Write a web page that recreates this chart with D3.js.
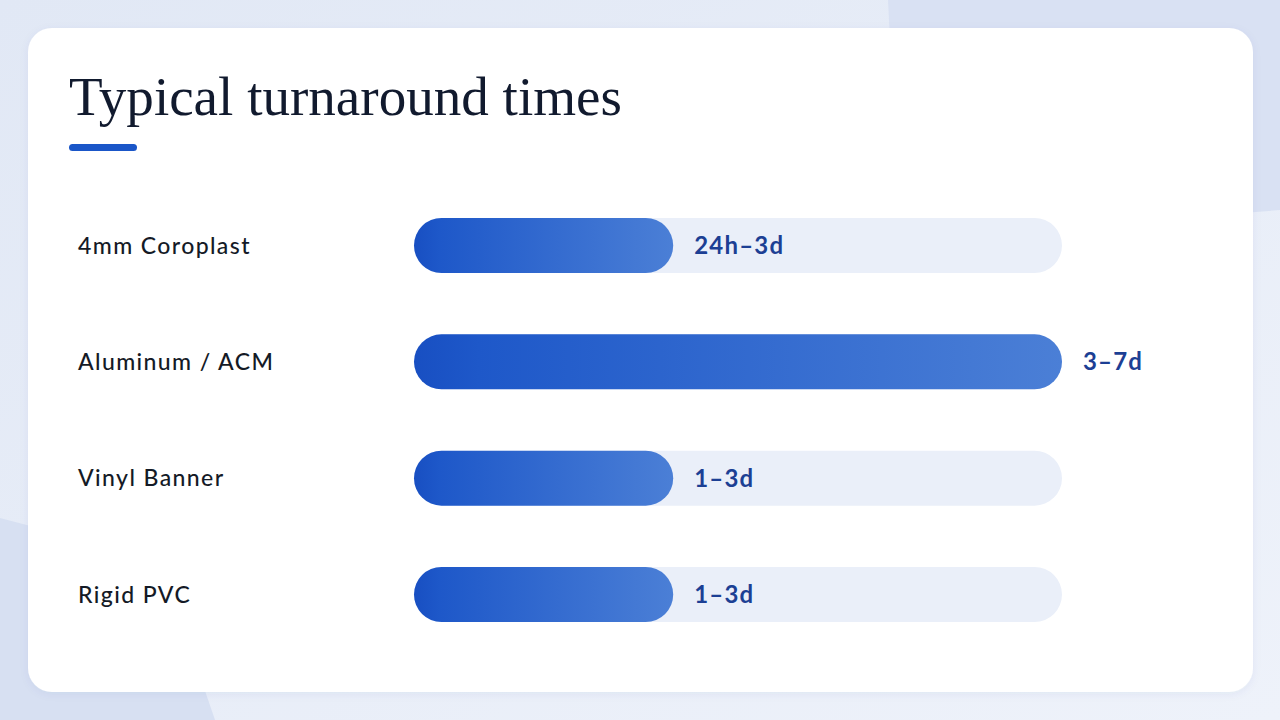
<!DOCTYPE html>
<html>
<head>
<meta charset="utf-8">
<script src="https://cdn.jsdelivr.net/npm/d3@7"></script>
<style>
  html, body { margin: 0; padding: 0; background: #e4eaf6; }
  svg { display: block; }
</style>
</head>
<body>
<svg id="chart" width="1280" height="720"></svg>
<script>
// ---- data ----
const title = "Typical turnaround times";
const categories = ["4mm Coroplast", "Aluminum / ACM", "Vinyl Banner", "Rigid PVC"];
const valueLabels = ["24h–3d", "3–7d", "1–3d", "1–3d"];
const barShare = [40, 100, 40, 40]; // relative bar length, % of track

const svg = d3.select("#chart");
const W = 1280, H = 720;

const defs = svg.append("defs");
const grad = defs.append("linearGradient").attr("id", "barGrad")
  .attr("x1", "0%").attr("x2", "100%").attr("y1", "0%").attr("y2", "0%");
grad.append("stop").attr("offset", "0%").attr("stop-color", "#184fc2");
grad.append("stop").attr("offset", "10%").attr("stop-color", "#1e58c9");
grad.append("stop").attr("offset", "100%").attr("stop-color", "#4b7fd6");

const bgGrad = defs.append("linearGradient").attr("id", "bgGrad")
  .attr("x1", "0%").attr("y1", "0%").attr("x2", "100%").attr("y2", "100%");
bgGrad.append("stop").attr("offset", "0%").attr("stop-color", "#e1e8f5");
bgGrad.append("stop").attr("offset", "100%").attr("stop-color", "#eef2fa");

const shadow = defs.append("filter").attr("id", "shadow")
  .attr("x", "-5%").attr("y", "-5%").attr("width", "110%").attr("height", "115%");
shadow.append("feDropShadow").attr("dx", 0).attr("dy", 2).attr("stdDeviation", 4)
  .attr("flood-color", "#1b3a8a").attr("flood-opacity", 0.06);

// background
svg.append("rect").attr("width", W).attr("height", H).attr("fill", "url(#bgGrad)");
svg.append("polygon").attr("points", "888,0 1280,0 1280,210 900,240").attr("fill", "#d9e1f3");
svg.append("polygon").attr("points", "0,518 160,560 215,720 0,720").attr("fill", "#d7e0f2");

// card
svg.append("rect").attr("x", 28).attr("y", 28).attr("width", 1225).attr("height", 664)
  .attr("rx", 24).attr("fill", "#ffffff").attr("filter", "url(#shadow)");

// title
const t = svg.append("text").attr("x", 69).attr("y", 115)
  .attr("font-family", "'Liberation Serif', 'DejaVu Serif', serif")
  .attr("font-size", 48).attr("fill", "#111a2e").text(title);
const tl = t.node().getComputedTextLength();
t.attr("font-size", 48 * 553 / tl);

svg.append("rect").attr("x", 69).attr("y", 144).attr("width", 68).attr("height", 7)
  .attr("rx", 3.5).attr("fill", "#1a56c8");

// scales
const y = d3.scaleBand().domain(categories).range([218, 622]).paddingInner(0.527).paddingOuter(0);
const x = d3.scaleLinear().domain([0, 100]).range([414, 1062]);
const bh = y.bandwidth();

const rows = svg.append("g").selectAll("g").data(categories).join("g");

// category labels
rows.append("text")
  .attr("x", 78).attr("y", d => y(d) + bh / 2)
  .attr("dy", "0.36em")
  .attr("font-family", "Lato, 'Noto Sans', sans-serif")
  .attr("font-weight", 500)
  .attr("letter-spacing", 1.4)
  .attr("font-size", 23).attr("fill", "#141a26")
  .text(d => d);

// tracks
rows.append("rect")
  .attr("x", x(0)).attr("y", d => y(d))
  .attr("width", x(100) - x(0)).attr("height", bh)
  .attr("rx", bh / 2).attr("fill", "#eaeff9");

// fills
rows.append("rect")
  .attr("x", x(0)).attr("y", d => y(d))
  .attr("width", (d, i) => x(barShare[i]) - x(0)).attr("height", bh)
  .attr("rx", bh / 2).attr("fill", "url(#barGrad)");

// value labels
rows.append("text")
  .attr("x", (d, i) => x(barShare[i]) + 21).attr("y", d => y(d) + bh / 2)
  .attr("dy", "0.36em")
  .attr("font-family", "Lato, 'Noto Sans', sans-serif")
  .attr("font-weight", 700)
  .attr("letter-spacing", 1.2)
  .attr("font-size", 24).attr("fill", "#1c3f94")
  .text((d, i) => valueLabels[i]);
</script>
</body>
</html>
